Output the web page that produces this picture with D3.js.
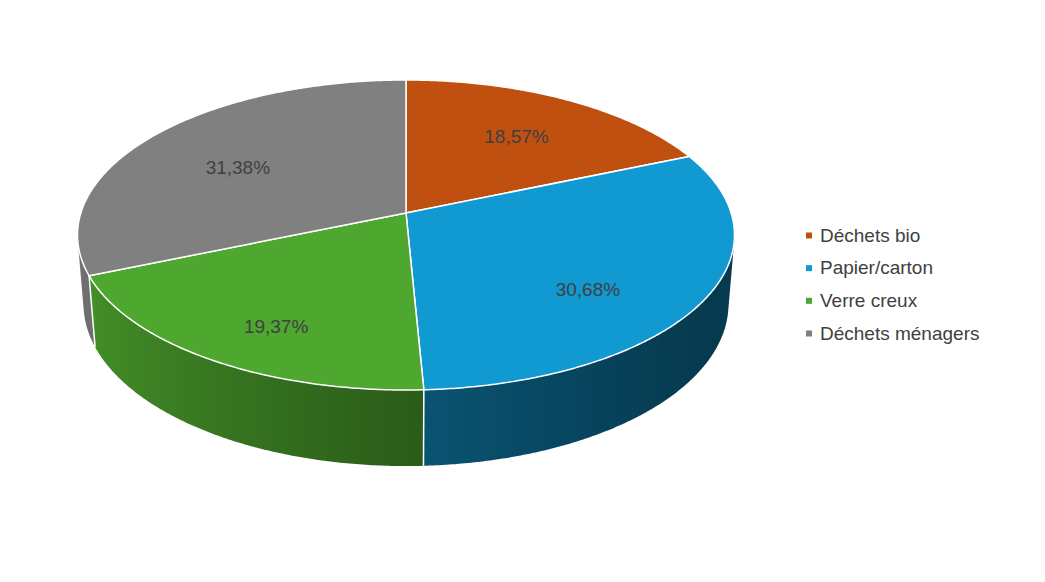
<!DOCTYPE html>
<html lang="fr">
  <head>
    <meta charset="utf-8">
    <title>Déchets</title>
    <script src="https://cdn.jsdelivr.net/npm/d3@7"></script>
    <style>
      body { margin: 0; background: #fff; }
      text { font-family: "Liberation Sans", Arial, sans-serif; }
    </style>
  </head>
  <body>
    <div id="chart"></div>
  </body>
</html>

<script>

const categories = ["Déchets bio", "Papier/carton", "Verre creux", "Déchets ménagers"];
const values = [18.57, 30.68, 19.37, 31.38];
const colors = ["#c0500f", "#1199d1", "#4ea72e", "#808080"];

const width = 1045;
const height = 582;

// perspective camera for the tilted disc
const cx = 406, cy = 213;
const focal = 2026;
const dist = 6.231;
const elev = 27.85 * Math.PI / 180;
const thick = 0.243;
const sinE = Math.sin(elev), cosE = Math.cos(elev);

function project(a, r, z) {
  const X = r * Math.sin(a), Y = -r * Math.cos(a);
  const depth = dist - Y * cosE - z * sinE;
  const up = -Y * sinE + z * cosE;
  return [cx + focal * X / depth, cy - focal * up / depth];
}

// wall faces the camera between these two angles
const visLo = Math.acos(-1 / (dist * cosE));
const visHi = 2 * Math.PI - visLo;

// light from the left front
const shade = a => 0.656 + 0.28 * Math.cos(a - 290 * Math.PI / 180);

const fmt = d3.formatLocale({decimal: ",", thousands: " ", grouping: [3], currency: ["", "€"]}).format(".2f");

const pie = d3.pie().sort(null).value(d => d.value);
const arcs = pie(categories.map((c, i) => ({name: c, value: values[i], color: colors[i]})));

const svg = d3.select("#chart")
  .append("svg")
  .attr("width", width)
  .attr("height", height);

svg.append("rect")
  .attr("width", width)
  .attr("height", height)
  .attr("fill", "#fff");

const defs = svg.append("defs");
const line = d3.line();
const step = Math.PI / 360;

function angles(a0, a1) {
  const n = Math.max(2, Math.ceil((a1 - a0) / step));
  return d3.range(n + 1).map(i => a0 + (a1 - a0) * i / n);
}

// side walls with a horizontal shading gradient
const walls = svg.append("g");
arcs.forEach((d, i) => {
  d.wallPoly = null;
  const a0 = Math.max(d.startAngle, visLo), a1 = Math.min(d.endAngle, visHi);
  if (a1 <= a0) return;
  const as = angles(a0, a1);
  const topEdge = as.map(a => project(a, 1, 0));
  const botEdge = as.map(a => project(a, 1, -thick));
  d.wallPoly = topEdge.concat(botEdge.slice().reverse());

  const xs = topEdge.map(p => p[0]);
  const x0 = d3.min(xs), x1 = d3.max(xs);
  const off = d3.scaleLinear().domain([x0, x1]).range([0, 1]);
  const grad = defs.append("linearGradient")
    .attr("id", "wall" + i)
    .attr("gradientUnits", "userSpaceOnUse")
    .attr("x1", x0).attr("x2", x1)
    .attr("y1", 0).attr("y2", 0);
  const stops = as.map((a, j) => ({o: off(xs[j]), c: d3.interpolateRgb("#000", d.data.color)(shade(a))}))
    .sort((p, q) => p.o - q.o);
  grad.selectAll("stop")
    .data(stops)
    .join("stop")
    .attr("offset", s => s.o)
    .attr("stop-color", s => s.c);

  walls.append("path")
    .attr("d", line(d.wallPoly) + "Z")
    .attr("fill", `url(#wall${i})`);
});

// white seams between wall pieces
arcs.forEach(d => {
  if (d.startAngle > visLo && d.startAngle < visHi) {
    walls.append("path")
      .attr("d", line([project(d.startAngle, 1, 0), project(d.startAngle, 1, -thick)]))
      .attr("stroke", "#fff")
      .attr("stroke-width", 1.5);
  }
});

// top faces
const tops = svg.append("g");
arcs.forEach(d => {
  d.topPoly = [[cx, cy]].concat(angles(d.startAngle, d.endAngle).map(a => project(a, 1, 0)));
  tops.append("path")
    .attr("d", line(d.topPoly) + "Z")
    .attr("fill", d.data.color)
    .attr("stroke", "#fff")
    .attr("stroke-width", 1.5)
    .attr("stroke-linejoin", "round");
});

// labels: blend of the visible-area centre and the mid-angle point at 0.7 radius
arcs.forEach(d => {
  let ax = 0, ay = 0, at = 0;
  [d.topPoly, d.wallPoly].filter(Boolean).forEach(p => {
    const A = Math.abs(d3.polygonArea(p));
    const c = d3.polygonCentroid(p);
    ax += c[0] * A; ay += c[1] * A; at += A;
  });
  const m = project((d.startAngle + d.endAngle) / 2, 0.7, 0);
  svg.append("text")
    .attr("x", (ax / at + m[0]) / 2)
    .attr("y", (ay / at + m[1]) / 2)
    .attr("text-anchor", "middle")
    .attr("dominant-baseline", "central")
    .attr("font-size", 19)
    .attr("fill", "#404040")
    .text(fmt(d.data.value) + "%");
});

// legend
const ly = d3.scalePoint().domain(categories).range([235, 333]);
const legend = svg.append("g")
  .selectAll("g")
  .data(categories)
  .join("g")
  .attr("transform", d => `translate(806, ${ly(d)})`);

legend.append("rect")
  .attr("x", 0)
  .attr("y", -2.5)
  .attr("width", 6)
  .attr("height", 6)
  .attr("fill", (d, i) => colors[i]);

legend.append("text")
  .attr("x", 14)
  .attr("dominant-baseline", "central")
  .attr("font-size", 19)
  .attr("fill", "#404040")
  .text(d => d);

</script>
